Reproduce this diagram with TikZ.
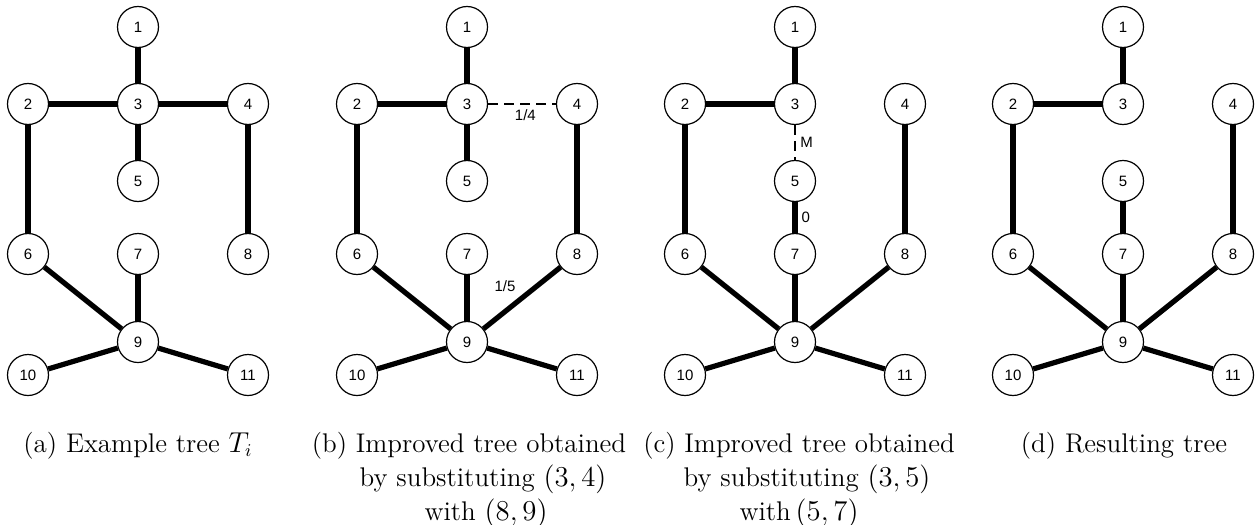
\documentclass[tikz,border=0pt]{standalone}
\usepackage{fontspec}
\newfontfamily\nodefont{Liberation Sans}

\tikzset{
  vertex/.style={circle, draw, line width=0.6pt, minimum size=20.5pt, inner sep=0pt,
    font=\nodefont\fontsize{7.5}{9}\selectfont},
  edge/.style={line width=2.6pt},
  swap/.style={line width=1.3pt, dash pattern=on 5pt off 3pt},
  weight/.style={font=\nodefont\fontsize{7.5}{9}\selectfont, inner sep=2pt},
  caption/.style={align=center, anchor=north, font=\fontsize{13.5}{17}\selectfont}
}

% the eleven vertices of one tree, named <prefix>-<number>
\newcommand\treenodes[1]{%
  \node[vertex] (#1-1) at (138,27) {1};
  \node[vertex] (#1-2) at (28,104) {2};
  \node[vertex] (#1-3) at (138,104) {3};
  \node[vertex] (#1-4) at (248,104) {4};
  \node[vertex] (#1-5) at (138,181) {5};
  \node[vertex] (#1-6) at (28,254) {6};
  \node[vertex] (#1-7) at (138,254) {7};
  \node[vertex] (#1-8) at (248,254) {8};
  \node[vertex] (#1-9) at (138,342) {9};
  \node[vertex] (#1-10) at (28,375) {10};
  \node[vertex] (#1-11) at (248,375) {11};
}

\begin{document}
\begin{tikzpicture}[x=0.5pt,y=-0.5pt]
\useasboundingbox (0,0) rectangle (1256,524);

% (a) example tree
\begin{scope}
\treenodes{a}
\draw[edge] (a-1) -- (a-3);
\draw[edge] (a-2) -- (a-3);
\draw[edge] (a-3) -- (a-4);
\draw[edge] (a-3) -- (a-5);
\draw[edge] (a-2) -- (a-6);
\draw[edge] (a-4) -- (a-8);
\draw[edge] (a-6) -- (a-9);
\draw[edge] (a-7) -- (a-9);
\draw[edge] (a-9) -- (a-10);
\draw[edge] (a-9) -- (a-11);
\end{scope}

% (b) swap (3,4) for (8,9)
\begin{scope}[shift={(329,0)}]
\treenodes{b}
\draw[edge] (b-1) -- (b-3);
\draw[edge] (b-2) -- (b-3);
\draw[swap] (b-3) -- node[weight, below, pos=0.55] {1/4} (b-4);
\draw[edge] (b-3) -- (b-5);
\draw[edge] (b-2) -- (b-6);
\draw[edge] (b-4) -- (b-8);
\draw[edge] (b-6) -- (b-9);
\draw[edge] (b-7) -- (b-9);
\draw[edge] (b-9) -- node[weight, above left, pos=0.5] {1/5} (b-8);
\draw[edge] (b-9) -- (b-10);
\draw[edge] (b-9) -- (b-11);
\end{scope}

% (c) swap (3,5) for (5,7)
\begin{scope}[shift={(657,0)}]
\treenodes{c}
\draw[edge] (c-1) -- (c-3);
\draw[edge] (c-2) -- (c-3);
\draw[swap] (c-3) -- node[weight, right] {M} (c-5);
\draw[edge] (c-5) -- node[weight, right] {0} (c-7);
\draw[edge] (c-2) -- (c-6);
\draw[edge] (c-4) -- (c-8);
\draw[edge] (c-6) -- (c-9);
\draw[edge] (c-7) -- (c-9);
\draw[edge] (c-8) -- (c-9);
\draw[edge] (c-9) -- (c-10);
\draw[edge] (c-9) -- (c-11);
\end{scope}

% (d) result
\begin{scope}[shift={(985,0)}]
\treenodes{d}
\draw[edge] (d-1) -- (d-3);
\draw[edge] (d-2) -- (d-3);
\draw[edge] (d-5) -- (d-7);
\draw[edge] (d-2) -- (d-6);
\draw[edge] (d-4) -- (d-8);
\draw[edge] (d-6) -- (d-9);
\draw[edge] (d-7) -- (d-9);
\draw[edge] (d-8) -- (d-9);
\draw[edge] (d-9) -- (d-10);
\draw[edge] (d-9) -- (d-11);
\end{scope}

% captions
\node[caption] (capa) at (138,425) {(a) Example tree $T_i$};
\node[caption] (capb) at (469,425) {(b) Improved tree obtained\\
  \hspace*{14pt}by substituting $(3,4)$\\ \hspace*{17pt}with $(8,9)$};
\node[caption] (capc) at (799,425) {(c) Improved tree obtained\\
  \hspace*{8pt}by substituting $(3,5)$\\ with$\,(5,7)$};
\node[caption] (capd) at (1124,425) {(d) Resulting tree};
\end{tikzpicture}
\end{document}
